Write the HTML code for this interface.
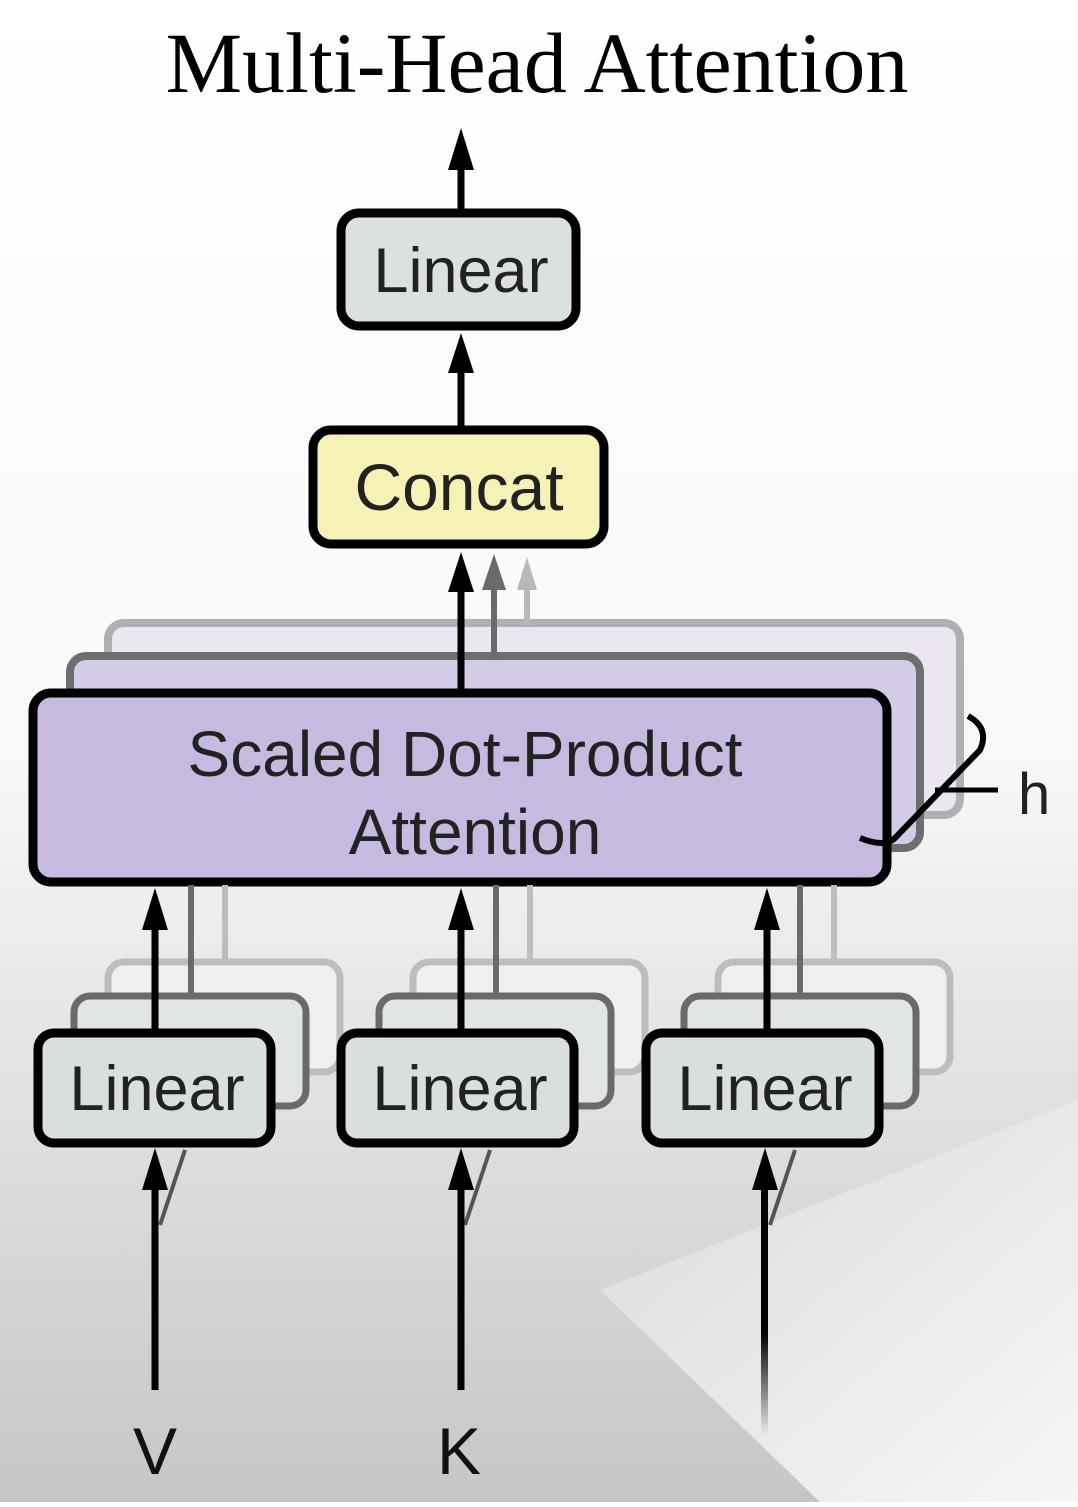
<!DOCTYPE html>
<html><head><style>
html,body{margin:0;padding:0;}
body{width:1078px;height:1502px;overflow:hidden;}
svg text{font-family:"Liberation Sans",sans-serif;}
</style></head><body>
<svg width="1078" height="1502" viewBox="0 0 1078 1502" xmlns="http://www.w3.org/2000/svg">
<defs>
<linearGradient id="bg" x1="0" y1="0" x2="0" y2="1">
<stop offset="0" stop-color="#ffffff"/>
<stop offset="0.5" stop-color="#f8f8f8"/>
<stop offset="0.72" stop-color="#e2e2e2"/>
<stop offset="1" stop-color="#c6c6c6"/>
</linearGradient>
<linearGradient id="tri" x1="0" y1="0" x2="1" y2="1">
<stop offset="0" stop-color="#dadada"/>
<stop offset="1" stop-color="#f6f6f6"/>
</linearGradient>
<linearGradient id="fade" x1="0" y1="0" x2="0" y2="1">
<stop offset="0" stop-color="#000"/>
<stop offset="0.6" stop-color="#000"/>
<stop offset="1" stop-color="#000" stop-opacity="0"/>
</linearGradient>
</defs>
<rect width="1078" height="1502" fill="url(#bg)"/>
<polygon points="600,1290 1078,1100 1078,1502 820,1502" fill="url(#tri)"/>

<text x="537" y="92" text-anchor="middle" font-size="86" fill="#000" style="font-family:'Liberation Serif',serif">Multi-Head Attention</text>

<line x1="461" y1="212" x2="461" y2="160" stroke="#000" stroke-width="7"/>
<polygon points="461,128 448,170 474,170" fill="#000"/>
<rect x="341" y="213" width="235" height="113" rx="18" fill="#dbe1dd" stroke="#000" stroke-width="9"/>
<text x="461" y="292" text-anchor="middle" font-size="63" fill="#222">Linear</text>
<line x1="461" y1="430" x2="461" y2="360" stroke="#000" stroke-width="7"/>
<polygon points="461,333 448,373 474,373" fill="#000"/>
<rect x="313" y="430" width="291" height="114" rx="18" fill="#f6f1b5" stroke="#000" stroke-width="9"/>
<text x="459" y="510" text-anchor="middle" font-size="66" fill="#222">Concat</text>

<rect x="108" y="623" width="852" height="192" rx="16" fill="#ebe6f2" stroke="#b0b0b0" stroke-width="8"/>
<rect x="70" y="656" width="850" height="192" rx="16" fill="#d4cbe6" stroke="#6e6e6e" stroke-width="8"/>
<line x1="527" y1="625" x2="527" y2="580" stroke="#b8b8b8" stroke-width="6"/>
<polygon points="527,557 517,590 537,590" fill="#b8b8b8"/>
<line x1="494" y1="658" x2="494" y2="580" stroke="#6a6a6a" stroke-width="6"/>
<polygon points="494,554 482,590 506,590" fill="#6a6a6a"/>
<rect x="33" y="693" width="854" height="189" rx="18" fill="#c7bae1" stroke="#000" stroke-width="9"/>
<text x="465" y="776" text-anchor="middle" font-size="64" fill="#222">Scaled Dot-Product</text>
<text x="475" y="854" text-anchor="middle" font-size="64" fill="#222">Attention</text>
<line x1="461" y1="693" x2="461" y2="580" stroke="#000" stroke-width="7"/>
<polygon points="461,552 448,592 474,592" fill="#000"/>
<path d="M968,716 Q990,728 980,750 L895,838 Q885,848 860,838" fill="none" stroke="#000" stroke-width="6"/>
<line x1="935" y1="790" x2="998" y2="790" stroke="#000" stroke-width="5"/>
<text x="1018" y="814" font-size="58" fill="#222">h</text>

<g fill="#eef0ee" stroke="#bdbdbd" stroke-width="7">
<rect x="108" y="962" width="232" height="110" rx="16"/>
<rect x="413" y="962" width="232" height="110" rx="16"/>
<rect x="718" y="962" width="232" height="110" rx="16"/>
</g>
<g stroke="#bdbdbd" stroke-width="6">
<line x1="225" y1="885" x2="225" y2="962"/>
<line x1="530" y1="885" x2="530" y2="962"/>
<line x1="834" y1="885" x2="834" y2="962"/>
</g>
<g fill="#e2e6e3" stroke="#6a6a6a" stroke-width="7">
<rect x="74" y="996" width="232" height="110" rx="16"/>
<rect x="379" y="996" width="232" height="110" rx="16"/>
<rect x="684" y="996" width="232" height="110" rx="16"/>
</g>
<g stroke="#6a6a6a" stroke-width="6">
<line x1="191" y1="885" x2="191" y2="996"/>
<line x1="496" y1="885" x2="496" y2="996"/>
<line x1="800" y1="885" x2="800" y2="996"/>
</g>
<g fill="#d9dfdb" stroke="#000" stroke-width="9">
<rect x="38" y="1033" width="233" height="110" rx="16"/>
<rect x="341" y="1033" width="233" height="110" rx="16"/>
<rect x="646" y="1033" width="233" height="110" rx="16"/>
</g>
<g font-size="63" fill="#222" text-anchor="middle">
<text x="157" y="1110">Linear</text>
<text x="460" y="1110">Linear</text>
<text x="765" y="1110">Linear</text>
</g>
<g stroke="#000" stroke-width="7">
<line x1="155" y1="1033" x2="155" y2="920"/>
<line x1="461" y1="1033" x2="461" y2="920"/>
<line x1="767" y1="1033" x2="767" y2="920"/>
</g>
<g fill="#000">
<polygon points="155,888 142,930 168,930"/>
<polygon points="461,888 448,930 474,930"/>
<polygon points="767,888 754,930 780,930"/>
</g>
<g stroke="#555" stroke-width="4">
<line x1="160" y1="1225" x2="185" y2="1150"/>
<line x1="465" y1="1225" x2="490" y2="1150"/>
<line x1="770" y1="1225" x2="795" y2="1150"/>
</g>
<g stroke="#000" stroke-width="7">
<line x1="155" y1="1390" x2="155" y2="1180"/>
<line x1="461" y1="1390" x2="461" y2="1180"/>
</g>
<rect x="761" y="1180" width="7" height="255" fill="url(#fade)"/>
<g fill="#000">
<polygon points="155,1148 142,1190 168,1190"/>
<polygon points="461,1148 448,1190 474,1190"/>
<polygon points="765,1148 752,1190 778,1190"/>
</g>
<text x="155" y="1474" text-anchor="middle" font-size="66" fill="#111">V</text>
<text x="459" y="1474" text-anchor="middle" font-size="66" fill="#111">K</text>
</svg>
</body></html>
